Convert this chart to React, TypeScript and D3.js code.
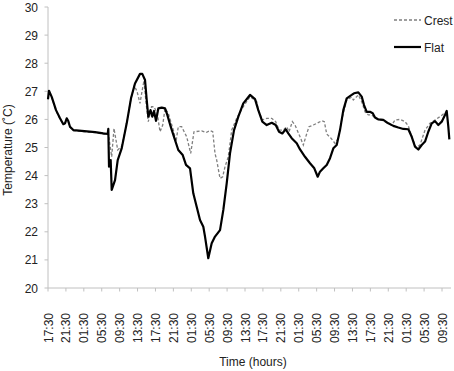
import * as d3 from 'd3';

// hours after the first 17:30 reading, and temperature (°C)
const flatHours = [0, 0.22, 0.83, 1.79, 2.68, 3.42, 3.8, 4.18, 4.53, 4.91, 5.65, 7.53, 10.5, 12.35, 13.33, 13.47, 13.63, 14.0, 14.23, 14.97, 15.57, 16.46, 17.58, 18.54, 19.43, 20.55, 21.06, 21.67, 22.05, 22.4, 22.89, 23.3, 23.68, 24.12, 24.64, 25.4, 26.14, 26.65, 27.41, 28.14, 29.1, 30.09, 30.82, 31.72, 32.45, 33.21, 33.95, 34.69, 35.07, 35.8, 36.56, 37.3, 38.42, 39.16, 39.92, 40.65, 41.55, 42.51, 43.62, 45.12, 46.24, 46.97, 47.87, 48.85, 49.97, 50.86, 51.6, 52.33, 53.09, 53.67, 54.43, 55.55, 56.29, 57.4, 58.52, 59.48, 60.24, 60.75, 61.49, 62.25, 62.99, 63.73, 64.48, 65.22, 65.96, 66.72, 67.83, 68.35, 69.31, 70.07, 70.58, 71.19, 71.92, 72.53, 73.04, 73.78, 74.89, 76.01, 77.13, 78.24, 79.36, 80.48, 81.24, 81.97, 82.71, 83.47, 84.21, 84.94, 85.7, 86.44, 87.18, 87.94, 88.67, 89.05, 89.41, 89.64];
const flatTemps = [26.72, 27.02, 26.8, 26.33, 26.04, 25.83, 25.86, 26.04, 25.94, 25.74, 25.62, 25.59, 25.55, 25.5, 25.48, 25.66, 24.32, 24.55, 23.49, 23.84, 24.55, 24.97, 25.86, 26.75, 27.28, 27.62, 27.62, 27.4, 26.69, 26.1, 26.33, 26.1, 26.3, 25.95, 26.39, 26.42, 26.39, 26.16, 25.74, 25.38, 24.91, 24.73, 24.38, 24.26, 23.37, 22.89, 22.42, 22.18, 21.83, 21.06, 21.59, 21.83, 22.06, 22.78, 23.73, 24.79, 25.62, 26.1, 26.57, 26.87, 26.72, 26.33, 25.92, 25.8, 25.88, 25.8, 25.56, 25.5, 25.65, 25.5, 25.33, 25.15, 24.93, 24.67, 24.44, 24.26, 23.96, 24.14, 24.26, 24.38, 24.62, 24.97, 25.09, 25.62, 26.33, 26.75, 26.87, 26.93, 26.96, 26.81, 26.51, 26.27, 26.27, 26.22, 26.07, 26.0, 25.98, 25.86, 25.77, 25.71, 25.66, 25.65, 25.38, 25.03, 24.93, 25.09, 25.21, 25.56, 25.86, 25.94, 25.8, 25.92, 26.16, 26.3, 25.74, 25.29];

const crestHours = [0, 0.22, 0.83, 1.79, 2.68, 3.42, 3.8, 4.18, 4.53, 4.91, 5.65, 7.53, 10.5, 12.35, 13.33, 13.47, 14.23, 14.74, 15.57, 16.46, 17.58, 18.54, 19.28, 19.88, 20.55, 21.0, 21.44, 21.89, 22.4, 23.12, 23.68, 24.41, 25.02, 25.62, 26.14, 26.87, 27.99, 28.59, 29.1, 29.86, 30.98, 31.87, 32.61, 34.33, 35.29, 36.18, 36.79, 37.3, 37.68, 38.42, 39.02, 39.54, 40.27, 41.03, 42.15, 43.62, 45.12, 46.62, 46.97, 47.87, 48.85, 49.97, 50.86, 51.6, 52.56, 53.32, 53.83, 54.57, 55.17, 56.29, 57.03, 57.57, 58.3, 59.26, 60.02, 61.13, 61.72, 62.25, 63.21, 64.1, 64.84, 65.6, 66.72, 67.83, 68.19, 69.31, 70.07, 70.81, 71.54, 72.3, 73.04, 73.78, 74.89, 76.01, 76.77, 77.5, 78.62, 79.74, 80.48, 81.24, 82.2, 83.09, 84.21, 85.32, 86.44, 87.56, 88.67, 89.05];
const crestTemps = [26.7, 27.0, 26.78, 26.31, 26.02, 25.82, 25.85, 26.02, 25.92, 25.72, 25.6, 25.57, 25.53, 25.48, 25.46, 25.5, 24.67, 25.68, 24.91, 25.05, 25.86, 26.75, 27.2, 27.0, 26.57, 27.0, 27.38, 26.6, 25.92, 26.45, 26.45, 26.2, 25.56, 25.8, 26.39, 26.22, 25.62, 25.21, 25.74, 25.74, 25.38, 24.79, 25.56, 25.59, 25.53, 25.6, 25.56, 24.79, 24.55, 23.9, 23.96, 24.32, 24.67, 25.62, 26.04, 26.45, 26.81, 26.63, 26.33, 25.98, 26.04, 26.04, 25.92, 25.62, 25.62, 25.74, 25.56, 25.92, 25.8, 25.38, 25.09, 25.38, 25.74, 25.8, 25.86, 25.95, 25.92, 25.48, 25.33, 25.15, 25.33, 25.98, 26.69, 26.79, 26.69, 26.87, 26.63, 26.27, 26.16, 26.16, 26.05, 25.98, 25.96, 25.84, 25.8, 25.98, 26.0, 25.92, 25.77, 25.38, 25.0, 25.09, 25.62, 25.86, 25.98, 26.1, 26.24, 26.27];

const timeLabels = ['17:30', '21:30', '01:30', '05:30', '09:30', '13:30', '17:30', '21:30', '01:30', '05:30', '09:30', '13:30', '17:30', '21:30', '01:30', '05:30', '09:30', '13:30', '17:30', '21:30', '01:30', '05:30', '09:30'];
const tempTicks = [20, 21, 22, 23, 24, 25, 26, 27, 28, 29, 30];

const W = 454;
const H = 371;
const FONT = 'Liberation Sans, Arial, sans-serif';
const AXIS = '#c0c0c0';

export default function App() {
  const x = d3.scaleLinear().domain([0, 88]).range([48, 442]);
  const y = d3.scaleLinear().domain([20, 30]).range([288, 7]);

  const line = d3.line<[number, number]>()
    .x((d) => x(d[0]))
    .y((d) => y(d[1]));

  const flat = flatHours.map((h, i) => [h, flatTemps[i]] as [number, number]);
  const crest = crestHours.map((h, i) => [h, crestTemps[i]] as [number, number]);

  return (
    <div style={{ position: 'absolute', left: 0, top: 0 }}>
      <svg width={W} height={H} style={{ display: 'block', background: '#fff' }} fontFamily={FONT}>
        {/* y axis */}
        <line x1={x(0)} x2={x(0)} y1={y(30)} y2={y(20)} stroke={AXIS} />
        {tempTicks.map((t) => (
          <g key={t}>
            <line x1={x(0) - 3.5} x2={x(0)} y1={y(t)} y2={y(t)} stroke={AXIS} />
            <text x={38} y={y(t) + 4.5} textAnchor="end" fontSize={12} fill="#222">{t}</text>
          </g>
        ))}
        <text transform={`translate(12,150) rotate(-90)`} textAnchor="middle" fontSize={12} fill="#222">
          Temperature (˚C)
        </text>

        {/* x axis */}
        <line x1={x(0)} x2={451} y1={y(20)} y2={y(20)} stroke={AXIS} />
        {timeLabels.map((lab, i) => (
          <g key={i}>
            <line x1={x(i * 4)} x2={x(i * 4)} y1={y(20)} y2={y(20) + 3.5} stroke={AXIS} />
            <text transform={`translate(${x(i * 4) + 4.5},313) rotate(-90)`} textAnchor="end" fontSize={12} fill="#222">
              {lab}
            </text>
          </g>
        ))}
        <text x={253} y={366} textAnchor="middle" fontSize={12} fill="#222">Time (hours)</text>

        {/* series */}
        <path d={line(crest) ?? ''} fill="none" stroke="#7f7f7f" strokeWidth={1.3} strokeDasharray="3,2" />
        <path d={line(flat) ?? ''} fill="none" stroke="#000" strokeWidth={2.2} strokeLinejoin="round" />

        {/* legend */}
        <line x1={394} x2={421} y1={20} y2={20} stroke="#7f7f7f" strokeWidth={1.3} strokeDasharray="3,2" />
        <text x={424} y={24.5} fontSize={12} fill="#222">Crest</text>
        <line x1={394} x2={421} y1={47} y2={47} stroke="#000" strokeWidth={2.2} />
        <text x={424} y={51.5} fontSize={12} fill="#222">Flat</text>
      </svg>
    </div>
  );
}
